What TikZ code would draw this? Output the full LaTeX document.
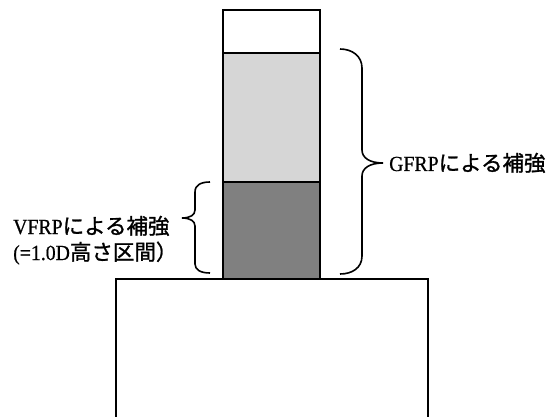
\documentclass[tikz,border=0pt]{standalone}
\usepackage{fontspec}
\newfontfamily\lat[FakeStretch=0.92,FakeBold=0.6]{Liberation Serif}
\newfontfamily\cjk[FakeBold=1.2]{Noto Sans CJK JP}
\begin{document}
\begin{tikzpicture}[x=1pt,y=-1pt,
  sect/.style={draw=black,line width=1.8pt},
  brc/.style={draw=black,line width=1.6pt},
  lbl/.style={anchor=base west,inner sep=0pt,font=\fontsize{21.5}{24}\selectfont}]
\useasboundingbox (0,0) rectangle (546,417);
% base block
\draw[line width=1.4pt] (116,418) -- (116,279) -- (428,279) -- (428,418);
% column
\filldraw[sect,fill=white] (223,10) rectangle (320,53);
\filldraw[sect,fill=black!16] (223,53) rectangle (320,182);
\filldraw[sect,fill=black!50] (223,182) rectangle (320,279);
% right brace
\coordinate (rtip) at (383,163);
\draw[brc] (340,49) .. controls (352,49) and (362,56) .. (362,68) -- (362,150)
  .. controls (362,158) and (370,163) .. (rtip)
  .. controls (370,163) and (362,168) .. (362,176) -- (362,256)
  .. controls (362,268) and (352,274) .. (340,274);
% left brace
\coordinate (ltip) at (182,218);
\draw[brc] (210,182) .. controls (201,182) and (195,185) .. (195,192) -- (195,210)
  .. controls (195,215) and (190,218) .. (ltip)
  .. controls (190,218) and (195,221) .. (195,226) -- (195,264)
  .. controls (195,270) and (201,273) .. (210,273);
% labels
\node[lbl] (gfrp) at (389,171) {{\lat GFRP}{\cjk による補強}};
\node[lbl] (vfrp1) at (13,234) {{\lat VFRP}{\cjk による補強}};
\node[lbl] (vfrp2) at (13,260) {{\lat (=1.0D}{\cjk 高さ区間）}};
\end{tikzpicture}
\end{document}
